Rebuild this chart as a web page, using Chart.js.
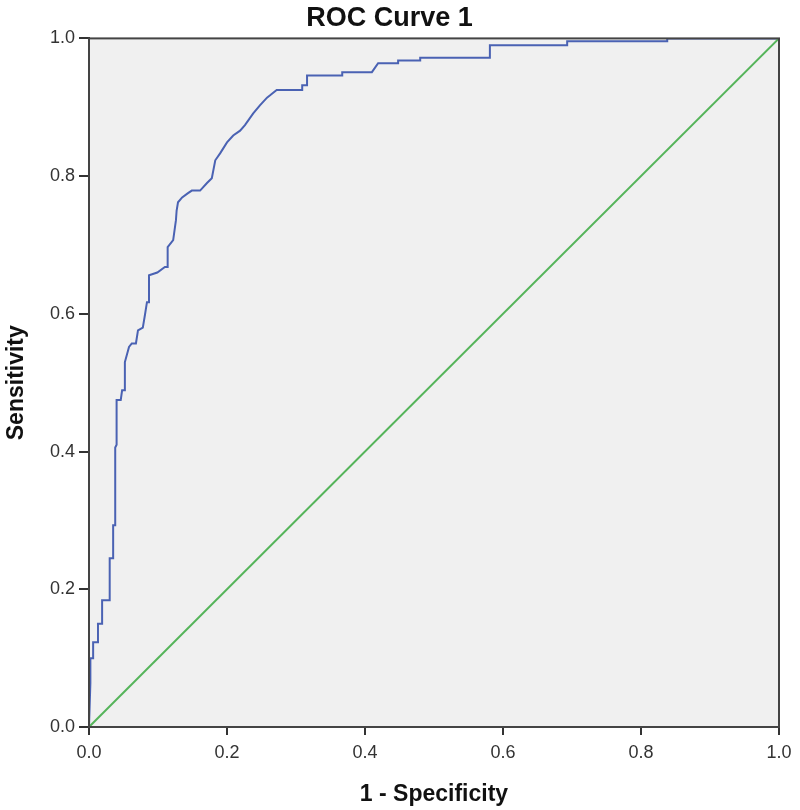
<!DOCTYPE html>
<html>
<head>
<meta charset="utf-8">
<script src="https://cdn.jsdelivr.net/npm/chart.js@4.4.1/dist/chart.umd.min.js"></script>
<style>
  html, body { margin: 0; padding: 0; background: #fff; }
  #wrap { width: 800px; height: 810px; }
</style>
</head>
<body>
<div id="wrap"><canvas id="rocCanvas" width="800" height="810"></canvas></div>
<script>
// ROC curve vertices (1 - specificity, sensitivity)
const fpr = [0, 0.002, 0.002, 0.006, 0.006, 0.013, 0.013, 0.019, 0.019, 0.03, 0.03, 0.035, 0.035, 0.038, 0.038, 0.04, 0.04, 0.046, 0.048, 0.052, 0.052, 0.058, 0.062, 0.068, 0.071, 0.078, 0.081, 0.084, 0.087, 0.087, 0.099, 0.11, 0.114, 0.114, 0.122, 0.126, 0.127, 0.129, 0.135, 0.143, 0.149, 0.161, 0.171, 0.178, 0.183, 0.19, 0.2, 0.209, 0.219, 0.226, 0.238, 0.248, 0.258, 0.262, 0.272, 0.309, 0.309, 0.316, 0.316, 0.367, 0.367, 0.41, 0.419, 0.448, 0.448, 0.48, 0.48, 0.581, 0.581, 0.693, 0.693, 0.838, 0.838, 1];
const tpr = [0, 0.064, 0.10, 0.10, 0.123, 0.123, 0.15, 0.15, 0.184, 0.184, 0.245, 0.245, 0.293, 0.293, 0.406, 0.41, 0.475, 0.475, 0.489, 0.489, 0.53, 0.552, 0.557, 0.557, 0.576, 0.58, 0.598, 0.617, 0.617, 0.656, 0.66, 0.668, 0.668, 0.697, 0.707, 0.736, 0.75, 0.762, 0.769, 0.775, 0.779, 0.779, 0.79, 0.797, 0.823, 0.833, 0.849, 0.859, 0.866, 0.874, 0.891, 0.903, 0.914, 0.917, 0.925, 0.925, 0.932, 0.932, 0.946, 0.946, 0.951, 0.951, 0.964, 0.964, 0.968, 0.968, 0.972, 0.972, 0.99, 0.99, 0.996, 0.996, 1, 1];
// reference line
const refX = [0, 1];
const refY = [0, 1];
const axisTicks = [0, 0.2, 0.4, 0.6, 0.8, 1.0];

const fontFam = '"Liberation Sans", Arial, sans-serif';

const plotFrame = {
  id: 'plotFrame',
  beforeDraw(chart) {
    const { ctx, chartArea: a } = chart;
    ctx.save();
    ctx.fillStyle = '#f0f0f0';
    ctx.fillRect(a.left, a.top, a.right - a.left, a.bottom - a.top);
    ctx.restore();
  },
  afterDraw(chart) {
    const { ctx, chartArea: a } = chart;
    ctx.save();
    ctx.strokeStyle = '#444';
    ctx.lineWidth = 2;
    ctx.strokeRect(a.left, a.top, a.right - a.left, a.bottom - a.top);
    ctx.restore();
  }
};

new Chart(document.getElementById('rocCanvas'), {
  type: 'line',
  data: {
    datasets: [
      {
        label: 'Reference',
        data: refX.map((x, i) => ({ x, y: refY[i] })),
        borderColor: '#55b45a',
        borderWidth: 2,
        pointRadius: 0,
        tension: 0
      },
      {
        label: 'ROC',
        data: fpr.map((x, i) => ({ x, y: tpr[i] })),
        borderColor: '#4a62b3',
        borderWidth: 2,
        pointRadius: 0,
        tension: 0
      }
    ]
  },
  options: {
    responsive: false,
    animation: false,
    layout: { padding: { left: 0, right: 21, top: 0, bottom: 0 } },
    plugins: {
      legend: { display: false },
      tooltip: { enabled: false },
      title: {
        display: true,
        text: 'ROC Curve 1',
        color: '#111',
        font: { family: fontFam, size: 27, weight: 'bold' },
        padding: { top: 2, bottom: 4 }
      }
    },
    scales: {
      x: {
        type: 'linear',
        min: 0,
        max: 1,
        afterBuildTicks: s => { s.ticks = axisTicks.map(v => ({ value: v })); },
        afterFit: s => { s.height = 83; },
        ticks: {
          color: '#333',
          font: { family: fontFam, size: 18 },
          padding: 7,
          maxRotation: 0,
          callback: v => Number(v).toFixed(1)
        },
        grid: { drawOnChartArea: false, color: '#333', tickLength: 8, lineWidth: 2 },
        border: { color: '#333', width: 2 },
        title: {
          display: true,
          text: '1 - Specificity',
          color: '#111',
          font: { family: fontFam, size: 23, weight: 'bold' },
          padding: { top: 4, bottom: 2 }
        }
      },
      y: {
        type: 'linear',
        min: 0,
        max: 1,
        afterBuildTicks: s => { s.ticks = axisTicks.map(v => ({ value: v })); },
        afterFit: s => { s.width = 89; },
        ticks: {
          color: '#333',
          font: { family: fontFam, size: 18 },
          padding: 4,
          callback: v => Number(v).toFixed(1)
        },
        grid: { drawOnChartArea: false, color: '#333', tickLength: 10, lineWidth: 2 },
        border: { color: '#333', width: 2 },
        title: {
          display: true,
          text: 'Sensitivity',
          color: '#111',
          font: { family: fontFam, size: 23, weight: 'bold' },
          padding: { top: 3, bottom: 4 }
        }
      }
    }
  },
  plugins: [plotFrame]
});
</script>
</body>
</html>
